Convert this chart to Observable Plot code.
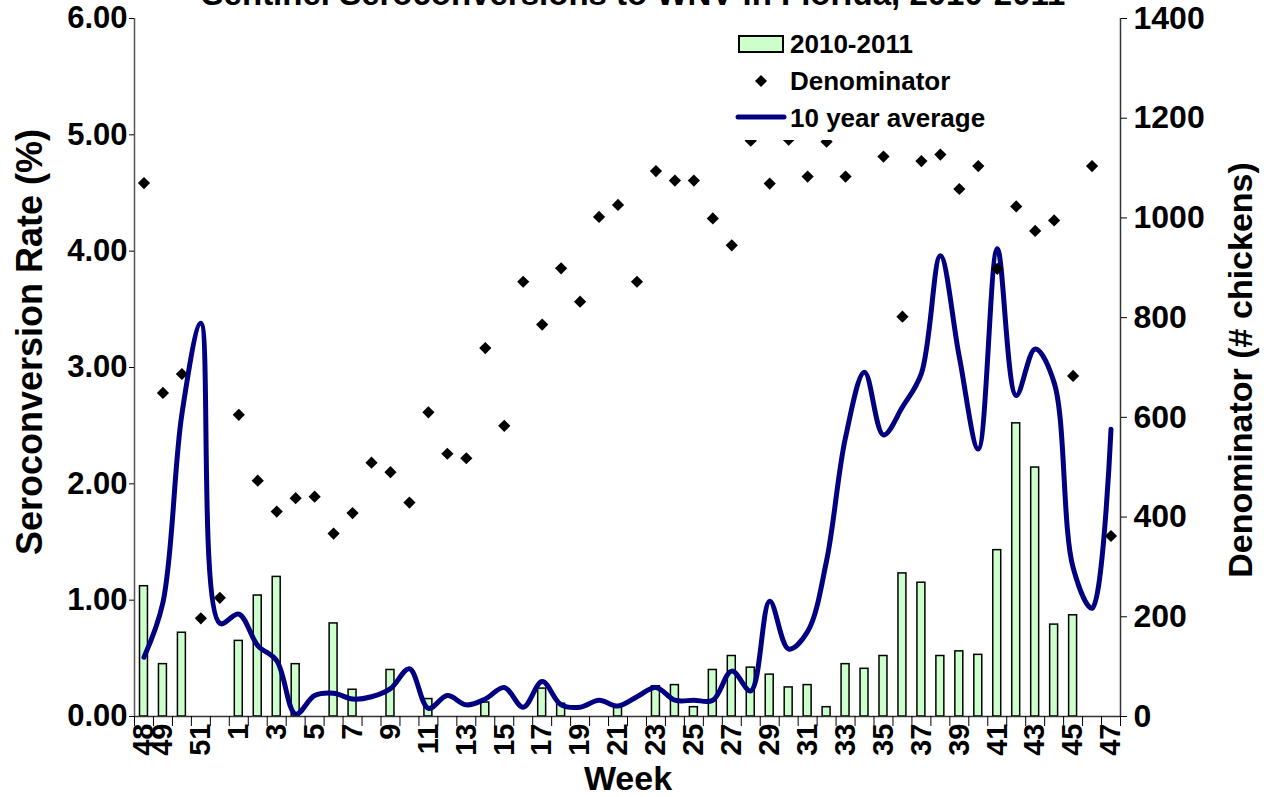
<!DOCTYPE html>
<html><head><meta charset="utf-8">
<script src="https://cdn.jsdelivr.net/npm/d3@7"></script>
<script src="https://cdn.jsdelivr.net/npm/@observablehq/plot@0.6"></script>
<style>
body{margin:0;background:#fff;}
#wrap{position:relative;width:1267px;height:797px;overflow:hidden;font-family:"Liberation Sans",Arial,sans-serif;font-weight:bold;color:#000;}
#wrap svg.plot{position:absolute;left:0;top:0;}
.abs{position:absolute;white-space:nowrap;line-height:1;}
</style></head><body><div id="wrap"></div>
<script>
const weeks = [48,49,50,51,52,1,2,3,4,5,6,7,8,9,10,11,12,13,14,15,16,17,18,19,20,21,22,23,24,25,26,27,28,29,30,31,32,33,34,35,36,37,38,39,40,41,42,43,44,45,46,47];
const rate2010 = [1.12,0.45,0.72,0,0,0.65,1.04,1.20,0.45,0,0.80,0.23,0,0.40,0,0.15,0,0,0.12,0,0,0.24,0.11,0,0,0.08,0,0.26,0.27,0.08,0.40,0.52,0.42,0.36,0.25,0.27,0.08,0.45,0.41,0.52,1.23,1.15,0.52,0.56,0.53,1.43,2.52,2.14,0.79,0.87,0,0];
const denominator = [1070,649,687,197,238,605,473,411,438,441,367,408,509,490,429,610,527,518,739,583,872,786,899,832,1002,1026,872,1094,1075,1075,999,945,1155,1069,1157,1083,1153,1083,1200,1123,802,1114,1127,1058,1104,898,1023,974,995,683,1104,362];
const avg10 = [0.51,0.98,2.60,3.38,0.80,0.88,0.61,0.48,0.02,0.18,0.20,0.15,0.17,0.24,0.41,0.07,0.18,0.10,0.15,0.25,0.08,0.30,0.10,0.08,0.14,0.09,0.17,0.25,0.14,0.14,0.14,0.39,0.22,0.99,0.58,0.73,1.34,2.40,2.96,2.42,2.66,2.95,3.96,3.09,2.30,4.02,2.76,3.16,2.87,1.28,0.93,2.47];
const leftTicks = [0,1,2,3,4,5,6];
const rightTicks = [0,200,400,600,800,1000,1200,1400];
const rateMax = 6, denomMax = 1400;
const labelIdx = [0].concat(d3.range(1, weeks.length, 2));

const data = weeks.map((w,i)=>({i, week:w, rate:rate2010[i], denom:denominator[i], avg:avg10[i]}));
const toLeft = v => v/denomMax*rateMax;

const chart = Plot.plot({
  width:1267, height:797,
  marginLeft:134, marginRight:147, marginTop:18, marginBottom:81,
  x:{type:"linear", domain:[-0.5, weeks.length-0.5], label:null},
  y:{domain:[0, rateMax], label:null},
  style:{fontFamily:'"Liberation Sans", Arial, sans-serif', fontWeight:"bold", color:"#000", background:"transparent", overflow:"visible"},
  marks:[
    Plot.rect(data.filter(d=>d.rate>0), {x1:d=>d.i-0.21, x2:d=>d.i+0.21, y1:0, y2:"rate", fill:"#ccffcc", stroke:"#000", strokeWidth:1.5}),
    Plot.line(data, {x:"i", y:"avg", stroke:"#000080", strokeWidth:5, curve:"catmull-rom"}),
    Plot.dot(data, {x:"i", y:d=>toLeft(d.denom), symbol:"diamond2", fill:"#000", r:5.5}),
    Plot.ruleY([0], {stroke:"#333", strokeWidth:1.5}),
    Plot.ruleX([-0.5], {stroke:"#555", strokeWidth:1.5}),
    Plot.ruleX([weeks.length-0.5], {stroke:"#333", strokeWidth:1.5}),
    Plot.axisY({ticks:leftTicks, tickFormat:d=>d.toFixed(2), tickSize:5, tickPadding:2, fontSize:31, label:null}),
    Plot.axisY({anchor:"right", ticks:rightTicks.map(toLeft), tickFormat:v=>String(Math.round(v/rateMax*denomMax)), tickSize:6, tickPadding:7, fontSize:32, label:null}),
    Plot.axisX({ticks:d3.range(weeks.length+1).map(k=>k-0.5), tickSize:10, tickFormat:()=>"", label:null}),
    Plot.axisX({ticks:labelIdx, tickFormat:i=>String(weeks[i]), tickSize:0, tickPadding:7, tickRotate:-90, fontSize:29, label:null})
  ]
});
chart.classList.add("plot");
const wrap = document.getElementById("wrap");
wrap.appendChild(chart);

function addText(txt, css){
  const d = document.createElement("div");
  d.className = "abs";
  d.textContent = txt;
  Object.assign(d.style, css);
  wrap.appendChild(d);
  return d;
}
addText("Sentinel Seroconversions to WNV in Florida, 2010-2011", {left:"0px", width:"1267px", textAlign:"center", top:"-23px", fontSize:"33px"});
addText("Seroconversion Rate (%)", {left:"30px", top:"342px", fontSize:"36px", transform:"translate(-50%,-50%) rotate(-90deg)"});
addText("Denominator (# chickens)", {left:"1240px", top:"370px", fontSize:"34px", transform:"translate(-50%,-50%) rotate(-90deg)"});
addText("Week", {left:"628px", top:"778px", fontSize:"34px", transform:"translate(-50%,-50%)"});

// legend
const leg = document.createElement("div");
Object.assign(leg.style, {position:"absolute", left:"728px", top:"28px", width:"268px", height:"112px", background:"#fff"});
leg.innerHTML = `<svg width="268" height="112" style="position:absolute;left:0;top:0">
  <rect x="11" y="8" width="44" height="16" fill="#ccffcc" stroke="#000" stroke-width="2"/>
  <path d="M33,47 L39,53 L33,59 L27,53 Z" fill="#000"/>
  <line x1="10" x2="56" y1="89" y2="89" stroke="#000080" stroke-width="5" stroke-linecap="round"/>
</svg>`;
wrap.appendChild(leg);
const legItems = [["2010-2011",16],["Denominator",53],["10 year average",90]];
for (const [t, cy] of legItems) {
  const d = document.createElement("div");
  d.className = "abs";
  d.textContent = t;
  Object.assign(d.style, {left:"62px", top:(cy-13)+"px", fontSize:"26px"});
  leg.appendChild(d);
}
</script>
</body></html>
